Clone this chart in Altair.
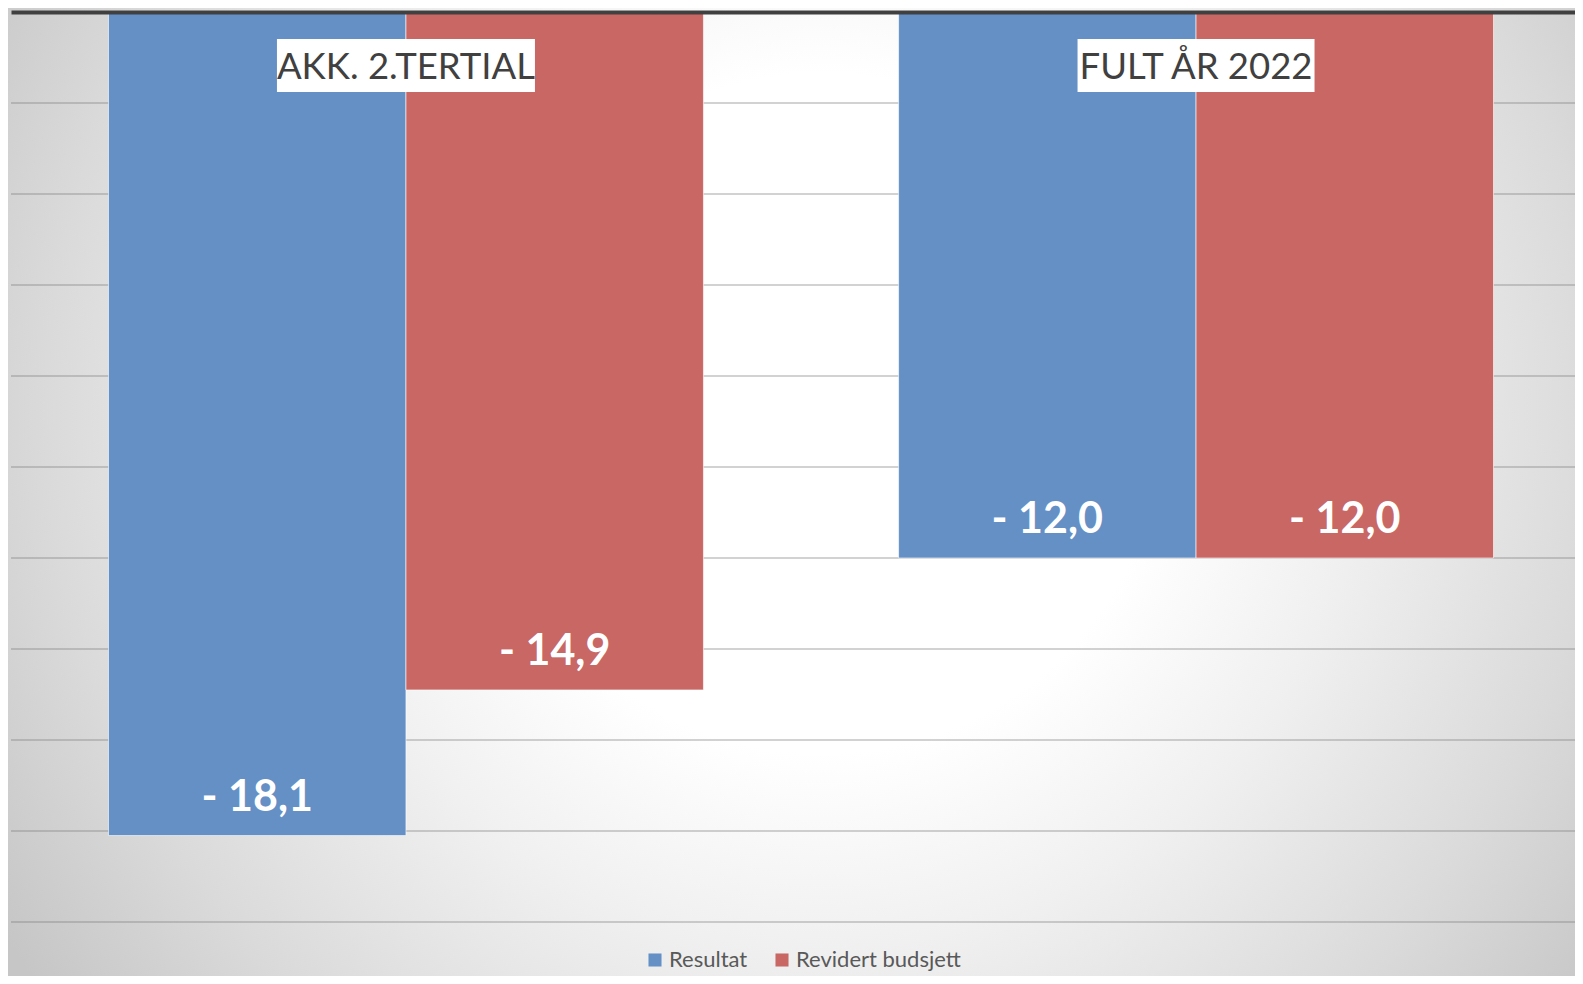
import altair as alt
import pandas as pd

# ---- data ----
categories = ["AKK. 2.TERTIAL", "FULT ÅR 2022"]
series = ["Resultat", "Revidert budsjett"]
resultat = [-18.1, -12.0]
revidert = [-14.9, -12.0]
grid_values = [-20, -18, -16, -14, -12, -10, -8, -6, -4, -2]

rows = []
for i, c in enumerate(categories):
    rows.append({"kategori": c, "serie": series[0], "verdi": resultat[i]})
    rows.append({"kategori": c, "serie": series[1], "verdi": revidert[i]})
df = pd.DataFrame(rows)
df["etikett"] = df["verdi"].map(lambda v: "- " + f"{abs(v):.1f}".replace(".", ","))
cat_df = pd.DataFrame({"kategori": categories})
grid_df = pd.DataFrame({"verdi": grid_values})
bg_df = pd.DataFrame({"d": [0]})

BLUE = "#6590c5"
RED = "#c86764"
W, H = 1564, 910
PADB = 54

xscale = alt.Scale(domain=categories, paddingInner=0.247, paddingOuter=0.1234, rangeMax=1580)
xenc = alt.X("kategori:N", sort=categories, scale=xscale,
             axis=alt.Axis(orient="top", labels=False, ticks=False, title=None,
                           domainColor="#404040", domainWidth=4, zindex=2, grid=False))
yscale = alt.Scale(domain=[-20, 0], nice=False)

gradient = {
    "gradient": "radial",
    "x1": 0.52, "y1": 0.45, "r1": 0,
    "x2": 0.52, "y2": 0.45, "r2": 0.62,
    "stops": [
        {"offset": 0.0, "color": "#ffffff"},
        {"offset": 0.35, "color": "#ffffff"},
        {"offset": 0.55, "color": "#f0f0f0"},
        {"offset": 0.8, "color": "#dadada"},
        {"offset": 1.0, "color": "#c6c6c6"},
    ],
}

background = alt.Chart(bg_df).mark_rect(fill=gradient).encode(
    x=alt.value(-3), x2=alt.value(W), y=alt.value(-4), y2=alt.value(H + PADB)
)

grid = alt.Chart(grid_df).mark_rule(color="#7a7a7a", strokeWidth=1.5, opacity=0.45).encode(
    y=alt.Y("verdi:Q", scale=yscale, axis=None),
    x=alt.value(0), x2=alt.value(1580),
)

bars = alt.Chart(df).mark_bar(stroke="#ffffff", strokeWidth=1, strokeOpacity=0.6).encode(
    x=xenc,
    xOffset=alt.XOffset("serie:N", sort=series, scale=alt.Scale(domain=series)),
    y=alt.Y("verdi:Q", scale=yscale, axis=None),
    color=alt.Color("serie:N", sort=series,
                    scale=alt.Scale(domain=series, range=[BLUE, RED]),
                    legend=alt.Legend(orient="none", legendX=633, legendY=937,
                                      direction="horizontal", title=None,
                                      symbolType="square", symbolSize=170,
                                      symbolStrokeWidth=0, labelFont="Lato",
                                      labelFontSize=22, labelColor="#595959",
                                      labelOffset=3, columnPadding=23, labelLimit=0)),
)

values = alt.Chart(df).mark_text(font="Lato", fontSize=43, fontWeight="bold",
                                 color="#ffffff", baseline="middle", dy=-38).encode(
    x=alt.X("kategori:N", sort=categories, scale=xscale),
    xOffset=alt.XOffset("serie:N", sort=series, scale=alt.Scale(domain=series)),
    y=alt.Y("verdi:Q"),
    text="etikett:N",
)

box1 = alt.Chart(cat_df).transform_filter(alt.datum.kategori == categories[0]).mark_bar(
    width=258, color="#ffffff").encode(
    x=alt.X("kategori:N", sort=categories, scale=xscale), y=alt.value(27), y2=alt.value(80))
box2 = alt.Chart(cat_df).transform_filter(alt.datum.kategori == categories[1]).mark_bar(
    width=237, color="#ffffff").encode(
    x=alt.X("kategori:N", sort=categories, scale=xscale), y=alt.value(27), y2=alt.value(80))

cat_text = alt.Chart(cat_df).mark_text(font="Lato", fontSize=36.5, color="#404040",
                                       baseline="alphabetic").encode(
    x=alt.X("kategori:N", sort=categories, scale=xscale),
    y=alt.value(67),
    text="kategori:N",
)

chart = alt.layer(background, grid, bars, values, box1, box2, cat_text).properties(
    width=W, height=H,
    autosize=alt.AutoSizeParams(type="none"),
    padding={"left": 3, "top": 4, "right": 0, "bottom": PADB},
).configure_view(stroke=None).configure(background="#d4d4d4")

chart.save("out.html", embed_options={"renderer": "svg", "actions": False})
